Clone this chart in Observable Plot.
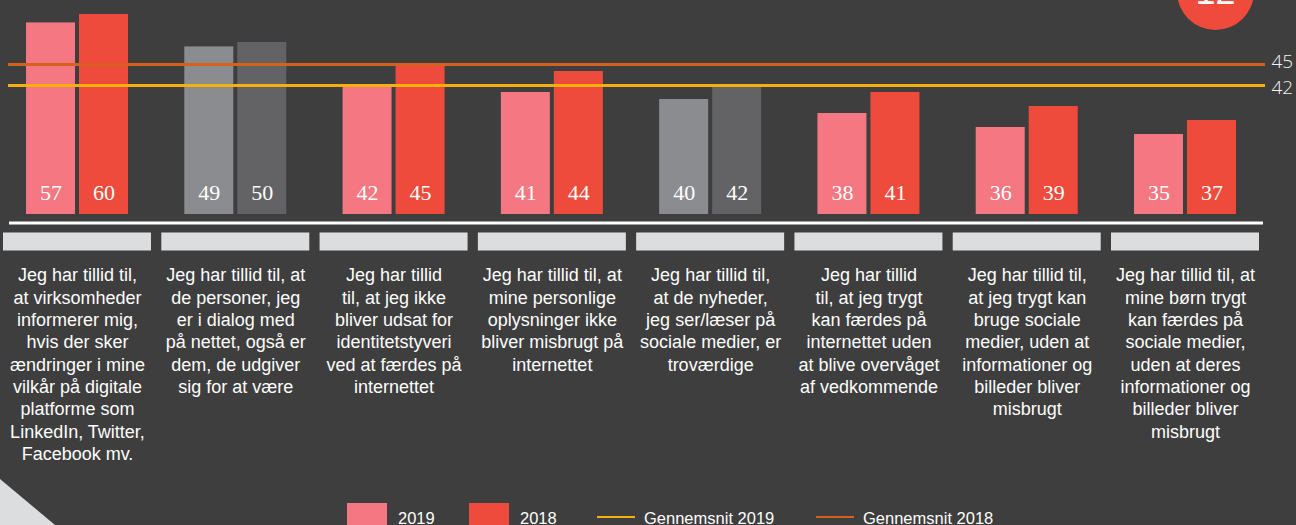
<!DOCTYPE html>
<html>
<head>
<meta charset="utf-8">
<script src="https://cdn.jsdelivr.net/npm/d3@7"></script>
<script src="https://cdn.jsdelivr.net/npm/@observablehq/plot@0.6"></script>
<style>
  html, body { margin: 0; padding: 0; background: #3e3e3e; overflow: hidden; }
  body { width: 1296px; height: 525px; position: relative; font-family: "Liberation Sans", Arial, sans-serif; }
  #chart { position: absolute; left: 0; top: 0; }
  #chart g[aria-label="categories"] { letter-spacing: 0.35px; }
  .badge { position: absolute; left: 1177px; top: -47px; width: 77px; height: 77px; border-radius: 50%;
           background: #ef4b3d; color: #fff; font: 36px "Liberation Sans", sans-serif; text-align: center; line-height: 77px; }
  .tri { position: absolute; left: 0; top: 479px; width: 55px; height: 46px; background: #dcdddf;
         clip-path: polygon(0 0, 100% 100%, 0 100%); }
  .legend { position: absolute; left: 0; top: 503px; width: 1296px; height: 40px; color: #fff; font-size: 16.5px; }
  .legend .sw { position: absolute; top: 0; width: 40px; height: 30px; }
  .legend .ln { position: absolute; top: 13px; width: 38px; height: 2px; }
  .legend .lb { position: absolute; top: 6px; white-space: nowrap; }
</style>
</head>
<body>
<div id="chart"></div>
<div class="badge">12</div>
<div class="tri"></div>
<div class="legend" id="legend"></div>
<script>
const categories = [
  "Jeg har tillid til,\nat virksomheder\ninformerer mig,\nhvis der sker\nændringer i mine\nvilkår på digitale\nplatforme som\nLinkedIn, Twitter,\nFacebook mv.",
  "Jeg har tillid til, at\nde personer, jeg\ner i dialog med\npå nettet, også er\ndem, de udgiver\nsig for at være",
  "Jeg har tillid\ntil, at jeg ikke\nbliver udsat for\nidentitetstyveri\nved at færdes på\ninternettet",
  "Jeg har tillid til, at\nmine personlige\noplysninger ikke\nbliver misbrugt på\ninternettet",
  "Jeg har tillid til,\nat de nyheder,\njeg ser/læser på\nsociale medier, er\ntroværdige",
  "Jeg har tillid\ntil, at jeg trygt\nkan færdes på\ninternettet uden\nat blive overvåget\naf vedkommende",
  "Jeg har tillid til,\nat jeg trygt kan\nbruge sociale\nmedier, uden at\ninformationer og\nbilleder bliver\nmisbrugt",
  "Jeg har tillid til, at\nmine børn trygt\nkan færdes på\nsociale medier,\nuden at deres\ninformationer og\nbilleder bliver\nmisbrugt"
];
const values2019 = [57, 49, 42, 41, 40, 38, 36, 35];
const values2018 = [60, 50, 45, 44, 42, 41, 39, 37];
const greyed = [false, true, false, false, true, false, false, false];
const avg2019 = 42;
const avg2018 = 45;
const years = ["2019", "2018"];
const seriesLabels = ["2019", "2018", "Gennemsnit 2019", "Gennemsnit 2018"];

const colors = {"2019": "#f47782", "2018": "#ef4b3d", "2019g": "#8b8c8f", "2018g": "#636366"};
const avgColors = {"2019": "#f5b00c", "2018": "#d4621c"};
const BASE = 20;

const rows2019 = categories.map((c, i) => ({category: c, year: "2019", value: values2019[i], grey: greyed[i]}));
const rows2018 = categories.map((c, i) => ({category: c, year: "2018", value: values2018[i], grey: greyed[i]}));
const fillOf = d => colors[d.year + (d.grey ? "g" : "")];
const averages = [{year: "2018", value: avg2018}, {year: "2019", value: avg2019}];

const numFont = {fontFamily: "Liberation Serif, serif", fontSize: 22, fill: "#fff", lineAnchor: "bottom", dy: -15};
const avgFont = {text: d => String(d.value), y: "value", frameAnchor: "right", dx: 6, textAnchor: "start",
  fontFamily: "Open Sans, sans-serif", fontWeight: 300, fontSize: 19, fill: "#f2f2f2"};

const chart = Plot.plot({
  width: 1296,
  height: 495,
  marginLeft: 8,
  marginRight: 31,
  marginTop: 0,
  marginBottom: 0,
  style: {background: "transparent", overflow: "visible"},
  x: {type: "band", domain: categories, range: [26, 1236], paddingInner: 0.3556, paddingOuter: 0, round: false, axis: null},
  y: {type: "linear", domain: [BASE, 35, 40, 45, 50, 60], range: [214, 134, 99, 64, 42, 14], axis: null},
  color: {type: "identity"},
  marks: [
    Plot.barY(rows2019, {x: "category", y1: BASE, y2: "value", fill: fillOf, insetRight: 53}),
    Plot.barY(rows2018, {x: "category", y1: BASE, y2: "value", fill: fillOf, insetLeft: 53}),
    Plot.text(rows2019, {x: "category", y: BASE, text: d => String(d.value), dx: -26.5, ...numFont}),
    Plot.text(rows2018, {x: "category", y: BASE, text: d => String(d.value), dx: 26.5, ...numFont}),
    Plot.ruleY(averages, {y: "value", stroke: d => avgColors[d.year], strokeWidth: 3}),
    Plot.text(averages.filter(d => d.year === "2018"), {...avgFont, dy: -3}),
    Plot.text(averages.filter(d => d.year === "2019"), {...avgFont, dy: 2}),
    Plot.ruleY([BASE], {stroke: "#fff", strokeWidth: 3, dy: 8.5, insetLeft: 1, insetRight: 2}),
    Plot.tickY(categories, {x: d => d, y: BASE, stroke: "#dcdddf", strokeWidth: 18, dy: 27, insetLeft: -23, insetRight: -23}),
    Plot.text(categories, {x: d => d, y: BASE, text: d => d, dy: 51, lineAnchor: "top", lineHeight: 1.24,
      fontSize: 18, fontFamily: "Liberation Sans, Arial, sans-serif", fill: "#fff", ariaLabel: "categories"})
  ]
});
document.getElementById("chart").appendChild(chart);

// legend
const legend = document.getElementById("legend");
const items = [
  {kind: "sw", color: colors["2019"], left: 347, textLeft: 398, label: seriesLabels[0]},
  {kind: "sw", color: colors["2018"], left: 469, textLeft: 520, label: seriesLabels[1]},
  {kind: "ln", color: avgColors["2019"], left: 597, textLeft: 644, label: seriesLabels[2]},
  {kind: "ln", color: avgColors["2018"], left: 816, textLeft: 863, label: seriesLabels[3]}
];
for (const it of items) {
  const s = document.createElement("div");
  s.className = it.kind;
  s.style.left = it.left + "px";
  s.style.background = it.color;
  legend.appendChild(s);
  const t = document.createElement("div");
  t.className = "lb";
  t.style.left = it.textLeft + "px";
  t.textContent = it.label;
  legend.appendChild(t);
}
</script>
</body>
</html>
